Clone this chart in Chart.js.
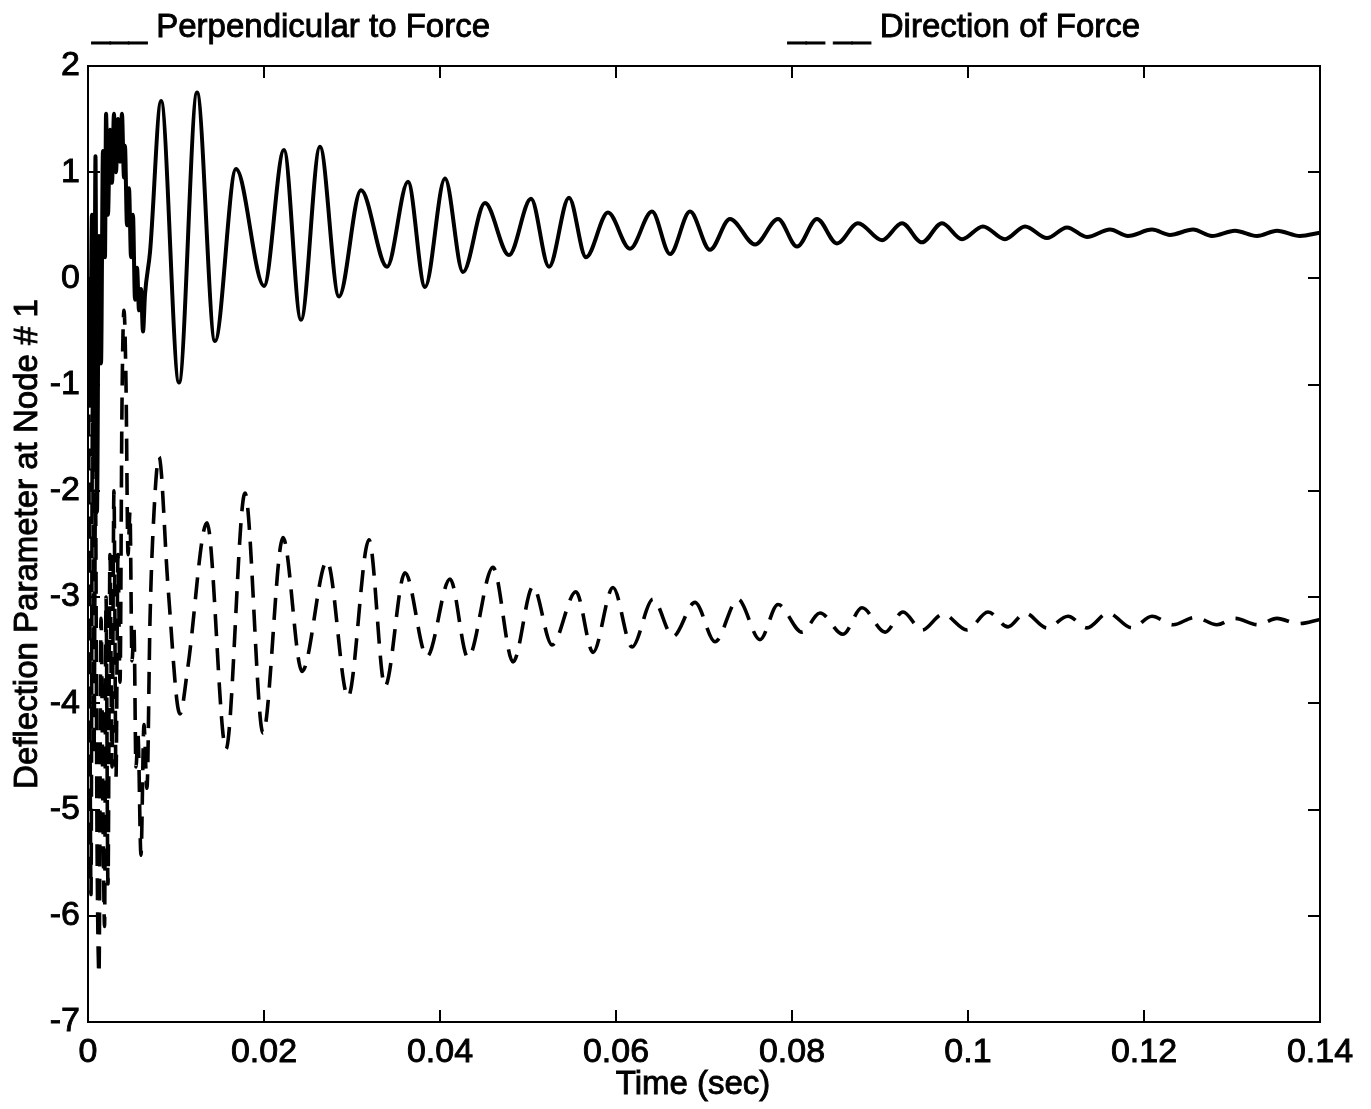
<!DOCTYPE html>
<html>
<head>
<meta charset="utf-8">
<title>Deflection Parameter at Node # 1</title>
<script src="https://cdn.jsdelivr.net/npm/chart.js@4.4.1/dist/chart.umd.min.js"></script>
<style>
  html, body { margin: 0; padding: 0; background: #fff; }
  #wrap { width: 1371px; height: 1109px; position: relative; }
</style>
</head>
<body>
<div id="wrap"><canvas id="deflectionChart"></canvas></div>
<script>
// Time samples (sec) and deflection, perpendicular to the force (solid)
const perpTime = [
  0.00000, 0.00023, 0.00045, 0.00068, 0.00085, 0.00102, 0.00125, 0.00148, 0.00170, 0.00193,
  0.00205, 0.00227, 0.00250, 0.00273, 0.00295, 0.00318, 0.00341, 0.00364, 0.00386, 0.00409,
  0.00420, 0.00443, 0.00466, 0.00489, 0.00511, 0.00534, 0.00557, 0.00580, 0.00602, 0.00625,
  0.00648, 0.00705, 0.00830, 0.01034, 0.01239, 0.01443, 0.01682, 0.02000, 0.02227, 0.02420,
  0.02636, 0.02852, 0.03102, 0.03398, 0.03636, 0.03830, 0.04057, 0.04261, 0.04511, 0.04784,
  0.05034, 0.05239, 0.05466, 0.05659, 0.05909, 0.06159, 0.06409, 0.06614, 0.06841, 0.07068,
  0.07295, 0.07580, 0.07841, 0.08057, 0.08284, 0.08511, 0.08750, 0.09023, 0.09250, 0.09477,
  0.09705, 0.09932, 0.10170, 0.10420, 0.10648, 0.10898, 0.11125, 0.11352, 0.11614, 0.11818,
  0.12091, 0.12295, 0.12557, 0.12773, 0.13034, 0.13284, 0.13511, 0.13773, 0.14000
];
const perpValue = [
  0, -1.2, 0.6, -1.8, 1.15, -2.2, 0.4, -0.8, 1.2, 0.2,
  1.55, 0.6, 1.4, 0.9, 1.55, 1.0, 1.5, 1.1, 1.55, 0.95,
  1.25, 0.5, 0.85, 0.2, 0.6, -0.2, 0.1, -0.3, -0.1, -0.5,
  -0.15, 0.25, 1.67, -0.98, 1.75, -0.59, 1.03, -0.07, 1.21, -0.39,
  1.24, -0.17, 0.83, 0.11, 0.91, -0.08, 0.94, 0.06, 0.71, 0.22,
  0.75, 0.11, 0.76, 0.20, 0.62, 0.28, 0.63, 0.23, 0.63, 0.27,
  0.56, 0.32, 0.56, 0.30, 0.56, 0.33, 0.52, 0.36, 0.52, 0.34,
  0.52, 0.37, 0.49, 0.37, 0.49, 0.38, 0.48, 0.39, 0.46, 0.40,
  0.46, 0.41, 0.46, 0.40, 0.45, 0.40, 0.45, 0.40, 0.43
];

// Deflection in the direction of the force (dashed)
const dirTime = [
  0.00000, 0.00017, 0.00034, 0.00051, 0.00068, 0.00085, 0.00102, 0.00125, 0.00148, 0.00170,
  0.00188, 0.00205, 0.00227, 0.00250, 0.00273, 0.00295, 0.00318, 0.00341, 0.00364, 0.00386,
  0.00409, 0.00432, 0.00455, 0.00477, 0.00500, 0.00523, 0.00545, 0.00568, 0.00602, 0.00636,
  0.00670, 0.00705, 0.00750, 0.00807, 0.00909, 0.01045, 0.01136, 0.01352, 0.01568, 0.01784,
  0.01989, 0.02216, 0.02432, 0.02716, 0.02955, 0.03193, 0.03375, 0.03602, 0.03852, 0.04114,
  0.04318, 0.04602, 0.04830, 0.05057, 0.05273, 0.05545, 0.05739, 0.05966, 0.06182, 0.06420,
  0.06648, 0.06898, 0.07125, 0.07386, 0.07636, 0.07841, 0.08114, 0.08318, 0.08580, 0.08795,
  0.09057, 0.09261, 0.09477, 0.09716, 0.09989, 0.10227, 0.10455, 0.10648, 0.10898, 0.11136,
  0.11352, 0.11591, 0.11864, 0.12091, 0.12330, 0.12580, 0.12830, 0.13034, 0.13295, 0.13511,
  0.13750, 0.14000
];
const dirValue = [
  0, -3.0, -5.8, -1.2, -4.5, -2.0, -5.2, -6.55, -3.2, -5.0,
  -6.1, -3.0, -5.7, -2.6, -4.6, -2.0, -4.7, -2.6, -3.8, -1.2,
  -0.3, -1.0, -2.6, -2.2, -3.6, -3.3, -4.6, -4.3, -5.43, -4.2,
  -4.8, -3.2, -2.2, -1.68, -2.9, -4.1, -3.65, -2.30, -4.43, -2.02,
  -4.28, -2.44, -3.70, -2.66, -3.94, -2.46, -3.84, -2.77, -3.56, -2.83,
  -3.57, -2.72, -3.61, -2.90, -3.45, -2.95, -3.52, -2.91, -3.47, -3.02,
  -3.37, -3.05, -3.42, -3.02, -3.40, -3.07, -3.33, -3.15, -3.35, -3.10,
  -3.33, -3.14, -3.31, -3.16, -3.31, -3.14, -3.28, -3.15, -3.29, -3.18,
  -3.29, -3.15, -3.29, -3.18, -3.26, -3.19, -3.26, -3.20, -3.26, -3.20,
  -3.25, -3.21
];

const xTickValues = [0, 0.02, 0.04, 0.06, 0.08, 0.1, 0.12, 0.14];
const yTickValues = [2, 1, 0, -1, -2, -3, -4, -5, -6, -7];
const legendText = ['___ Perpendicular to Force', '__ __ Direction of Force'];
const xTitle = 'Time (sec)';
const yTitle = 'Deflection Parameter at Node # 1';

const FONT = '"Liberation Sans", Arial, Helvetica, sans-serif';

const toPoints = (ts, vs) => ts.map((t, i) => ({ x: t, y: vs[i] }));

// heavier text: fill plus a thin stroke of the same colour
function boldText(ctx, text, x, y) {
  ctx.fillText(text, x, y);
  ctx.strokeText(text, x, y);
}

// Boxed frame with inward tick marks on all four sides, axis titles and the text legend
const frameAndLabels = {
  id: 'frameAndLabels',
  afterDraw(chart) {
    const { ctx, chartArea: a, scales: { x, y } } = chart;
    const tick = 12;
    ctx.save();
    ctx.strokeStyle = '#000';
    ctx.lineWidth = 2;
    ctx.strokeRect(a.left, a.top, a.right - a.left, a.bottom - a.top);
    ctx.beginPath();
    xTickValues.forEach(v => {
      const px = Math.round(x.getPixelForValue(v));
      ctx.moveTo(px, a.bottom); ctx.lineTo(px, a.bottom - tick);
      ctx.moveTo(px, a.top); ctx.lineTo(px, a.top + tick);
    });
    yTickValues.forEach(v => {
      const py = Math.round(y.getPixelForValue(v));
      ctx.moveTo(a.left, py); ctx.lineTo(a.left + tick, py);
      ctx.moveTo(a.right, py); ctx.lineTo(a.right - tick, py);
    });
    ctx.stroke();

    ctx.fillStyle = '#000';
    ctx.lineWidth = 0.9;
    ctx.font = '33px ' + FONT;
    ctx.textBaseline = 'alphabetic';
    ctx.textAlign = 'left';
    boldText(ctx, legendText[0], 92, 37);
    boldText(ctx, legendText[1], 788, 37);

    ctx.textAlign = 'center';
    ctx.textBaseline = 'middle';
    boldText(ctx, xTitle, 693, 1085);
    ctx.translate(28, (a.top + a.bottom) / 2);
    ctx.rotate(-Math.PI / 2);
    boldText(ctx, yTitle, 0, 0);
    ctx.restore();
  }
};

const tickStyle = {
  color: '#000',
  font: { family: FONT, size: 34 },
  textStrokeColor: '#000',
  textStrokeWidth: 0.9,
  callback: v => String(v),
};

const ctx = document.getElementById('deflectionChart').getContext('2d');
new Chart(ctx, {
  type: 'line',
  data: {
    datasets: [
      {
        label: 'Perpendicular to Force',
        data: toPoints(perpTime, perpValue),
        borderColor: '#000',
        borderWidth: 4,
        pointRadius: 0,
        cubicInterpolationMode: 'monotone',
        fill: false,
      },
      {
        label: 'Direction of Force',
        data: toPoints(dirTime, dirValue),
        borderColor: '#000',
        borderWidth: 3.6,
        borderDash: [22, 12],
        pointRadius: 0,
        cubicInterpolationMode: 'monotone',
        fill: false,
      },
    ],
  },
  options: {
    responsive: true,
    maintainAspectRatio: false,
    animation: false,
    layout: { padding: { top: 66, right: 51, left: 0, bottom: 0 } },
    plugins: {
      legend: { display: false },
      tooltip: { enabled: false },
    },
    scales: {
      x: {
        type: 'linear',
        min: 0,
        max: 0.14,
        grid: { display: false, drawTicks: false },
        border: { display: false },
        afterBuildTicks: s => { s.ticks = xTickValues.map(v => ({ value: v })); },
        afterFit: s => { s.height = 87; },
        ticks: { ...tickStyle, padding: 10, maxRotation: 0 },
      },
      y: {
        min: -7,
        max: 2,
        grid: { display: false, drawTicks: false },
        border: { display: false },
        afterBuildTicks: s => { s.ticks = yTickValues.map(v => ({ value: v })); },
        afterFit: s => { s.width = 88; },
        ticks: { ...tickStyle, padding: 8 },
      },
    },
  },
  plugins: [frameAndLabels],
});
</script>
</body>
</html>
